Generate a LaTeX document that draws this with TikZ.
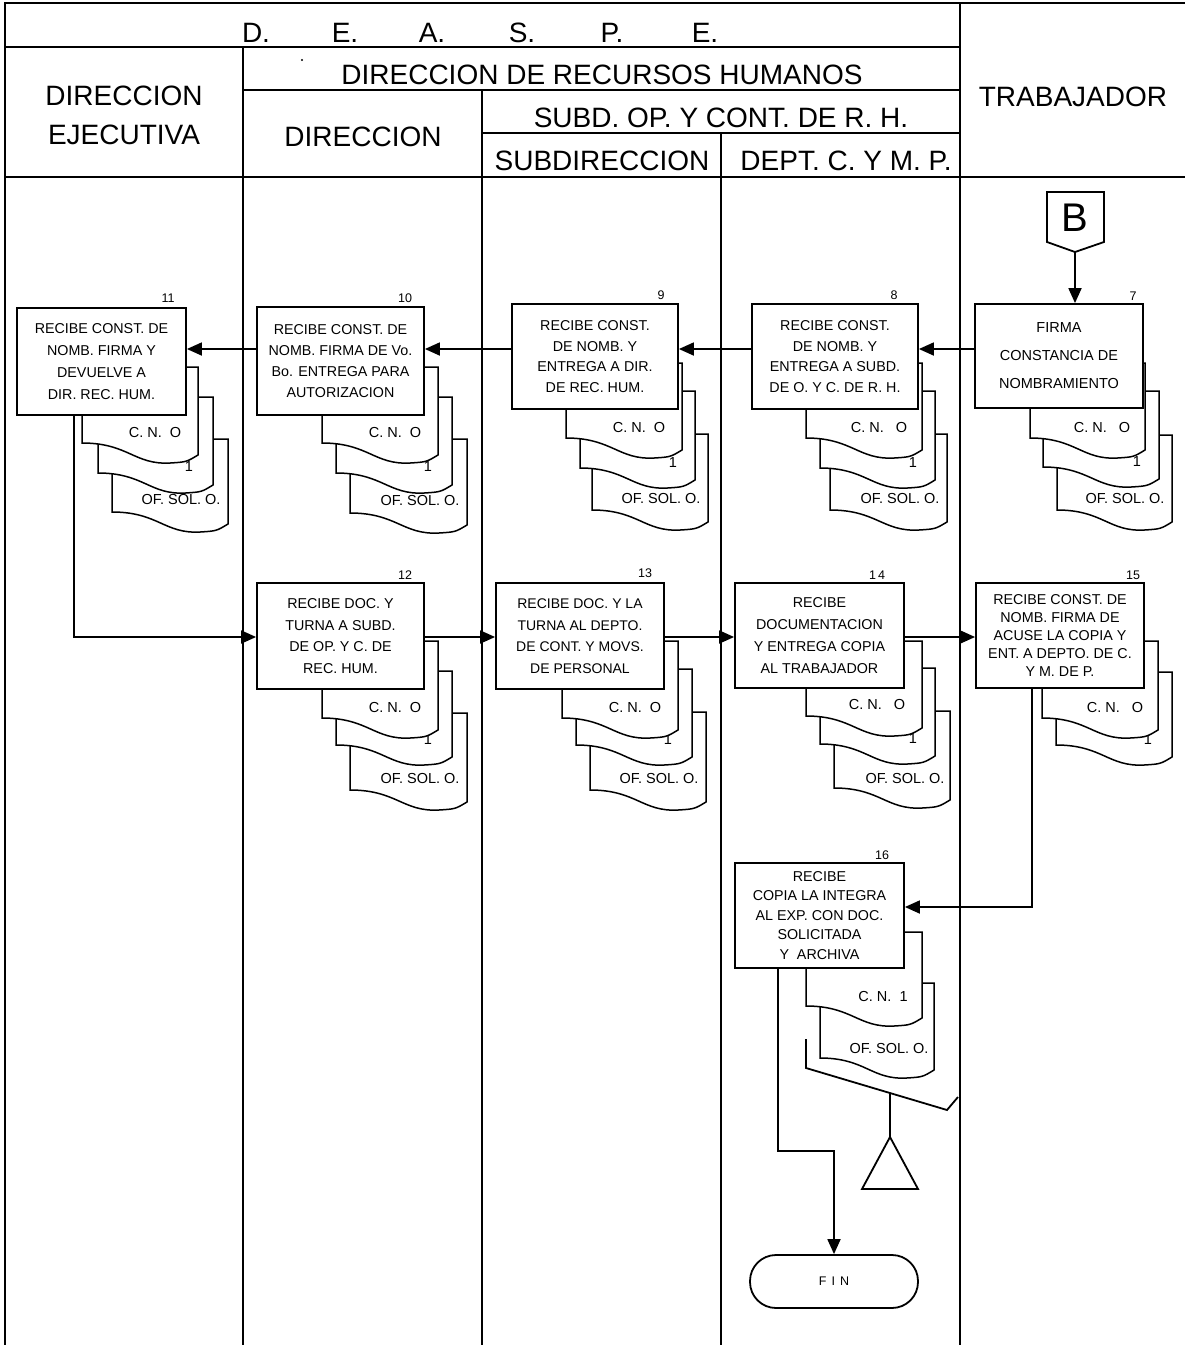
\documentclass[tikz,border=0pt]{standalone}
\usepackage{fontspec}
\setmainfont{Liberation Sans}
\usetikzlibrary{arrows.meta,calc}
\newcommand{\docsh}[8]{%
  \path[docst] (#2,#3) -- (#2,#5)
    .. controls ({#2+0.4*(#4-#2)},#5) and ({#2+0.45*(#4-#2)},{#5+22}) .. ({#2+0.76*(#4-#2)},{#5+20})
    .. controls ({#2+0.9*(#4-#2)},{#5+19}) .. (#4,{#5+12}) -- (#4,#3) -- cycle;
  \node[doctxt] (#1) at ({#4-#7},{#5-#8}) {#6};}
\begin{document}
\begin{tikzpicture}[x=1pt,y=-1pt,
  frame/.style={line width=2pt},
  procbox/.style={draw, line width=1.8pt, fill=white, align=center, inner sep=0pt},
  docst/.style={draw, line width=1.5pt, fill=white},
  doctxt/.style={font=\fontsize{14.5}{16}\selectfont, inner sep=0pt},
  numtxt/.style={font=\fontsize{12.5}{14}\selectfont, inner sep=0pt},
  head/.style={font=\fontsize{28}{39}\selectfont, inner sep=0pt, align=center},
  conn/.style={line width=1.8pt},
  arr/.style={conn, -{Triangle[length=15pt,width=13pt]}},
]
\useasboundingbox (0,0) rectangle (1185,1345);
% ---- frame ----
\draw[frame] (5,1345) -- (5,3) -- (1185,3);
\draw[frame] (5,47) -- (960,47);
\draw[frame] (243,90) -- (960,90);
\draw[frame] (482,133) -- (960,133);
\draw[frame] (5,177) -- (1185,177);
\draw[frame] (243,47) -- (243,1345);
\draw[frame] (482,90) -- (482,1345);
\draw[frame] (721,133) -- (721,1345);
\draw[frame] (960,3) -- (960,1345);
% ---- header texts ----
\node[head] (hd1) at (256,33) {D.};
\node[head] (hd2) at (345,33) {E.};
\node[head] (hd3) at (432,33) {A.};
\node[head] (hd4) at (522,33) {S.};
\node[head] (hd5) at (612,33) {P.};
\node[head] (hd6) at (705,33) {E.};
\fill (302,60) circle (1.2);
\node[head] (hdrh) at (602,75) {DIRECCION DE RECURSOS HUMANOS};
\node[head] (hdej) at (124,115) {DIRECCION\\EJECUTIVA};
\node[head] (hddir) at (363,137) {DIRECCION};
\node[head] (hdsub) at (721,118) {SUBD. OP. Y CONT. DE R. H.};
\node[head] (hdsd) at (602,161) {SUBDIRECCION};
\node[head] (hddp) at (846,161) {DEPT. C. Y M. P.};
\node[head] (hdtr) at (1073,97) {TRABAJADOR};
% ---- row 1 documents ----
\docsh{d11c}{112}{439}{228}{512}{OF. SOL. O.}{47}{13}
\docsh{d11b}{98}{397}{213}{473}{1}{24}{6}
\docsh{d11a}{82}{367}{198}{443}{C. N.\ \ O}{43}{11}
\docsh{d10c}{350}{439}{467}{513}{OF. SOL. O.}{47}{13}
\docsh{d10b}{336}{397}{452}{473}{1}{24}{6}
\docsh{d10a}{322}{367}{438}{443}{C. N.\ \ O}{43}{11}
\docsh{d9c}{592}{434}{708}{510}{OF. SOL. O.}{47}{12}
\docsh{d9b}{580}{391}{695}{468}{1}{22}{5}
\docsh{d9a}{566}{363}{682}{438}{C. N.\ \ O}{43}{11}
\docsh{d8c}{830}{434}{947}{510}{OF. SOL. O.}{47}{12}
\docsh{d8b}{820}{391}{935}{468}{1}{22}{5}
\docsh{d8a}{806}{363}{922}{438}{C. N.\ \ \ O}{43}{11}
\docsh{d7c}{1057}{435}{1172}{510}{OF. SOL. O.}{47}{12}
\docsh{d7b}{1043}{391}{1159}{467}{1}{22}{5}
\docsh{d7a}{1030}{363}{1145}{438}{C. N.\ \ \ O}{43}{11}
% ---- row 2 documents ----
\docsh{d12c}{350}{713}{467}{790}{OF. SOL. O.}{47}{12}
\docsh{d12b}{336}{671}{452}{745}{1}{24}{5}
\docsh{d12a}{322}{641}{438}{718}{C. N.\ \ O}{43}{11}
\docsh{d13c}{590}{712}{706}{790}{OF. SOL. O.}{47}{12}
\docsh{d13b}{576}{669}{692}{745}{1}{24}{5}
\docsh{d13a}{562}{641}{678}{718}{C. N.\ \ O}{43}{11}
\docsh{d14c}{834}{711}{950}{788}{OF. SOL. O.}{45}{10}
\docsh{d14b}{820}{668}{935}{744}{1}{22}{6}
\docsh{d14a}{806}{641}{922}{716}{C. N.\ \ \ O}{45}{12}
\docsh{d15b}{1056}{672}{1172}{745}{1}{24}{5}
\docsh{d15a}{1042}{641}{1158}{718}{C. N.\ \ \ O}{43}{11}
\docsh{d16b}{820}{983}{934}{1058}{OF. SOL. O.}{45}{10}
\docsh{d16a}{806}{932}{922}{1006}{C. N.\ \ 1}{39}{10}
% ---- process boxes ----
\node[procbox, minimum width=169pt, minimum height=107pt, font=\fontsize{14.3}{22}\selectfont] (b11) at (101.5,361.5)
  {RECIBE CONST. DE\\NOMB. FIRMA Y\\DEVUELVE A\\DIR. REC. HUM.};
\node[procbox, minimum width=167pt, minimum height=108pt, font=\fontsize{14.3}{21}\selectfont] (b10) at (340.5,361)
  {RECIBE CONST. DE\\NOMB. FIRMA DE Vo.\\Bo. ENTREGA PARA\\AUTORIZACION};
\node[procbox, minimum width=166pt, minimum height=105pt, font=\fontsize{14.3}{20.5}\selectfont] (b9) at (595,356.5)
  {RECIBE CONST.\\DE NOMB. Y\\ENTREGA A DIR.\\DE REC. HUM.};
\node[procbox, minimum width=166pt, minimum height=105pt, font=\fontsize{14.3}{20.5}\selectfont] (b8) at (835,356.5)
  {RECIBE CONST.\\DE NOMB. Y\\ENTREGA A SUBD.\\DE O. Y C. DE R. H.};
\node[procbox, minimum width=168pt, minimum height=104pt, font=\fontsize{14.5}{28}\selectfont] (b7) at (1059,356)
  {FIRMA\\CONSTANCIA DE\\NOMBRAMIENTO};
\node[procbox, minimum width=167pt, minimum height=106pt, font=\fontsize{14.3}{21.5}\selectfont] (b12) at (340.5,636)
  {RECIBE DOC. Y\\TURNA A SUBD.\\DE OP. Y C. DE\\REC. HUM.};
\node[procbox, minimum width=168pt, minimum height=106pt, font=\fontsize{14}{21.5}\selectfont] (b13) at (580,636)
  {RECIBE DOC. Y LA\\TURNA AL DEPTO.\\DE CONT. Y MOVS.\\DE PERSONAL};
\node[procbox, minimum width=169pt, minimum height=105pt, font=\fontsize{14.3}{22}\selectfont] (b14) at (819.5,635.5)
  {RECIBE\\DOCUMENTACION\\Y ENTREGA COPIA\\AL TRABAJADOR};
\node[procbox, minimum width=168pt, minimum height=105pt, font=\fontsize{14.3}{18}\selectfont] (b15) at (1060,635.5)
  {RECIBE CONST. DE\\NOMB. FIRMA DE\\ACUSE LA COPIA Y\\ENT. A DEPTO. DE C.\\Y M. DE P.};
\node[procbox, minimum width=169pt, minimum height=105pt, font=\fontsize{14.3}{19.5}\selectfont] (b16) at (819.5,915.5)
  {RECIBE\\COPIA LA INTEGRA\\AL EXP. CON DOC.\\SOLICITADA\\Y\ \ ARCHIVA};
% ---- step numbers ----
\node[numtxt] (n11) at (168,298) {11};
\node[numtxt] (n10) at (405,298) {10};
\node[numtxt] (n9) at (661,295) {9};
\node[numtxt] (n8) at (894,295) {8};
\node[numtxt] (n7) at (1133,296) {7};
\node[numtxt] (n12) at (405,575) {12};
\node[numtxt] (n13) at (645,573) {13};
\node[numtxt] (n14) at (877,575) {1\,4};
\node[numtxt] (n15) at (1133,575) {15};
\node[numtxt] (n16) at (882,855) {16};
% ---- connector B ----
\node[inner sep=0pt, font=\fontsize{40}{44}\selectfont] (Bt) at (1075,218) {B};
\draw[line width=1.8pt] (1047,192) -- (1104,192) -- (1104,242) -- (1075,252) -- (1047,242) -- cycle;
\coordinate (Btip) at (1075,252);
% ---- end terminal ----
\node[draw, line width=1.8pt, rounded corners=26pt, minimum width=168pt, minimum height=53pt,
  font=\fontsize{12.5}{14}\selectfont] (fin) at (834,1281.5) {F\hspace{5pt}I\hspace{5pt}N};
% ---- archive ----
\coordinate (tri) at (890,1137);
\draw[conn] (806,1039) -- (806,1068) -- (947,1110) -- (958,1097);
\draw[conn] (890,1093) -- (tri);
\draw[line width=1.8pt] (tri) -- (918,1189) -- (862,1189) -- cycle;
% ---- helper coordinates ----
\coordinate (r1) at (0,349);
\coordinate (r2) at (0,637);
\coordinate (x11) at (74,0);
\coordinate (x15) at (1032,0);
\coordinate (r16) at (0,907);
\coordinate (k1) at (778,1151);
% ---- connectors ----
\draw[arr] (Btip) -- (Btip |- b7.north);
\draw[arr] (b7.west |- r1) -- (b8.east |- r1);
\draw[arr] (b8.west |- r1) -- (b9.east |- r1);
\draw[arr] (b9.west |- r1) -- (b10.east |- r1);
\draw[arr] (b10.west |- r1) -- (b11.east |- r1);
\draw[arr] (b11.south -| x11) |- (b12.west |- r2);
\draw[arr] (b12.east |- r2) -- (b13.west |- r2);
\draw[arr] (b13.east |- r2) -- (b14.west |- r2);
\draw[arr] (b14.east |- r2) -- (b15.west |- r2);
\draw[arr] (b15.south -| x15) |- (b16.east |- r16);
\draw[arr] (b16.south -| k1) -- (k1) -| (fin.north);
\end{tikzpicture}
\end{document}
